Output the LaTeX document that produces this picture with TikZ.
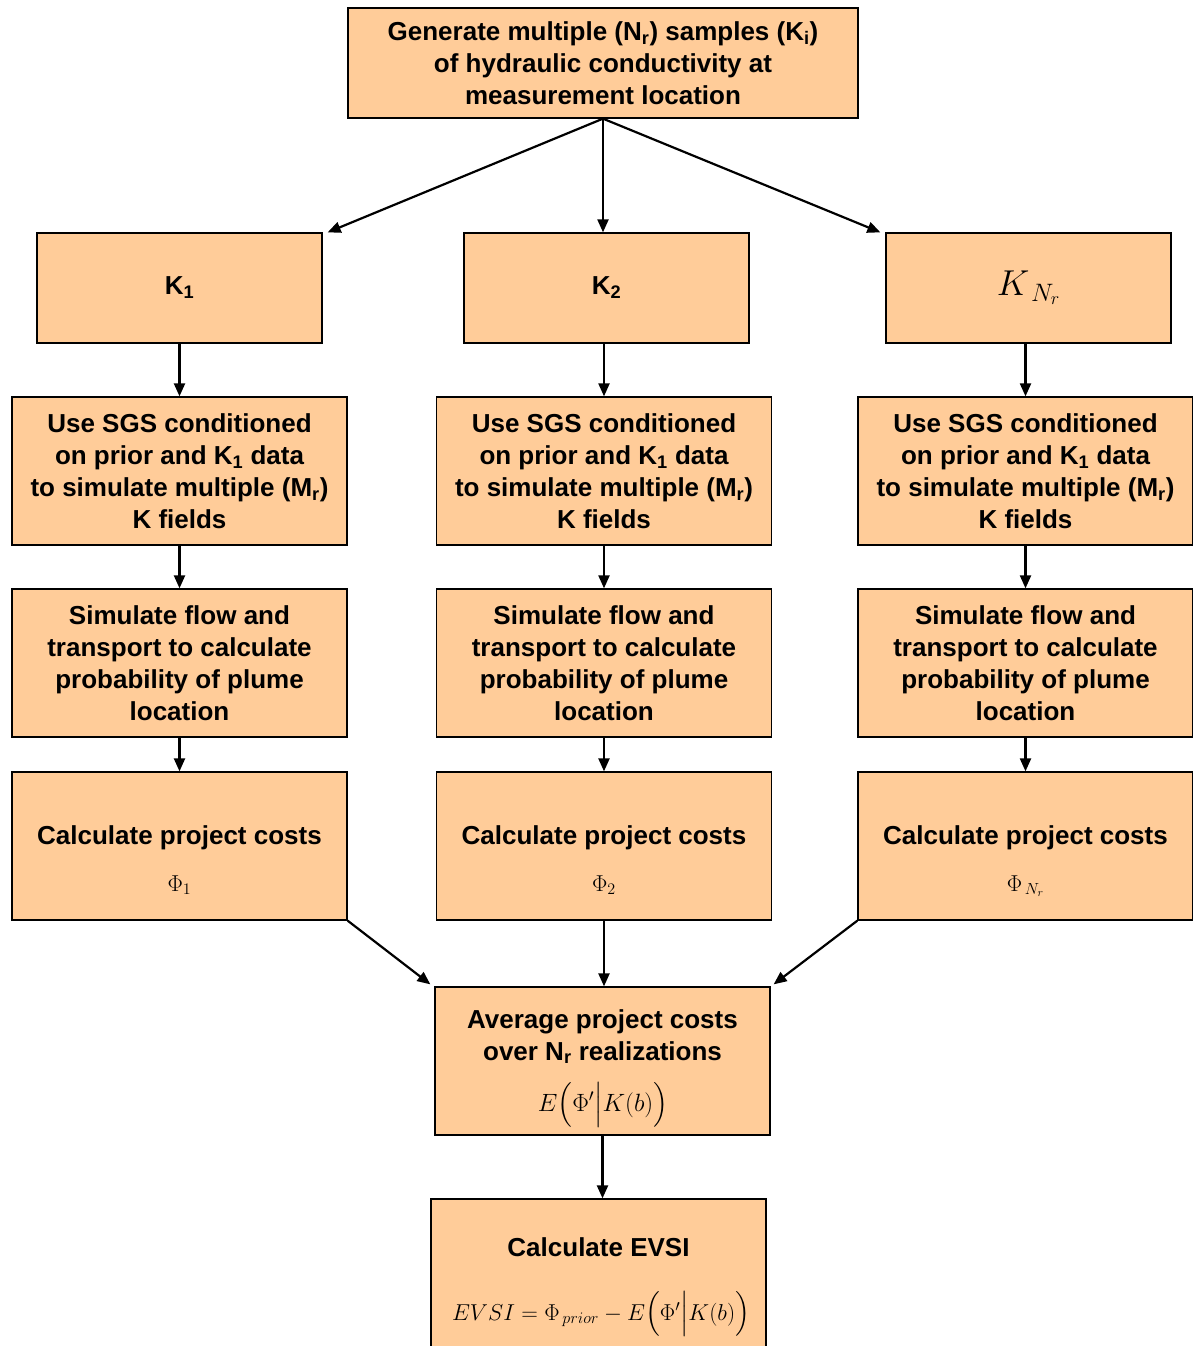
\RequirePackage{fix-cm}
\documentclass[tikz,border=0pt]{standalone}
\usepackage{amsmath}
\usepackage[no-math]{fontspec}
\setmainfont{Liberation Sans}
\usetikzlibrary{arrows.meta,calc}
\definecolor{boxfill}{HTML}{FFCC99}
\begin{document}
\begin{tikzpicture}[x=1pt,y=-1pt,
  box/.style={draw=black, line width=1.3pt, fill=boxfill, inner sep=0pt, align=center,
    font=\fontsize{26}{32}\selectfont\bfseries},
  lbl/.style={inner sep=0pt, anchor=base, font=\fontsize{26}{32}\selectfont\bfseries},
  arr/.style={line width=2.2pt, -{Triangle[length=13pt,width=11pt]}}]
\useasboundingbox (0,0) rectangle (1193,1346);
\fill[white] (0,0) rectangle (1193,1346);
% top
\node[box, minimum width=510pt, minimum height=110pt] (top) at (603,63)
  {Generate multiple (N\textsubscript{r}) samples (K\textsubscript{i})\\ of hydraulic conductivity at\\ measurement location};
% K row
\node[box, minimum width=285pt, minimum height=110pt] (k1) at (179.5,288) {K\textsubscript{1}};
\node[box, minimum width=285pt, minimum height=110pt] (k2) at (606.5,288) {K\textsubscript{2}};
\node[box, minimum width=285pt, minimum height=110pt] (k3) at (1028.5,288)
  {\fontsize{36}{40}\selectfont$K_{\,N_r}$};
% SGS row
\foreach \n/\x in {s1/179.5, s2/604, s3/1025.5}
  \node[box, minimum width=335pt, minimum height=148pt] (\n) at (\x,471)
  {Use SGS conditioned\\ on prior and K\textsubscript{1} data\\ to simulate multiple (M\textsubscript{r})\\ K fields};
% flow row
\foreach \n/\x in {f1/179.5, f2/604, f3/1025.5}
  \node[box, minimum width=335pt, minimum height=148pt] (\n) at (\x,663)
  {Simulate flow and\\ transport to calculate\\ probability of plume\\ location};
% cost row
\foreach \n/\x in {c1/179.5, c2/604, c3/1025.5}{
  \node[box, minimum width=335pt, minimum height=148pt] (\n) at (\x,846) {};
  \node[lbl] (\n t) at (\x,844) {Calculate project costs};
}
\node[lbl, font=\fontsize{23}{26}\selectfont] (c1m) at (179.5,891) {$\Phi_1$};
\node[lbl, font=\fontsize{23}{26}\selectfont] (c2m) at (604,891) {$\Phi_2$};
\node[lbl, font=\fontsize{23}{26}\selectfont] (c3m) at (1025.5,891) {$\Phi_{\,N_r}$};
% average
\node[box, minimum width=335pt, minimum height=148pt] (avg) at (602.5,1061) {};
\node[lbl] (avgt1) at (602.5,1028) {Average project costs};
\node[lbl] (avgt2) at (602.5,1060) {over N\textsubscript{r} realizations};
\node[lbl, font=\fontsize{25}{28}\selectfont] (avgm) at (603,1111)
  {$E\Bigl(\Phi'\Big|K(b)\Bigr)$};
% evsi
\node[box, minimum width=335pt, minimum height=150pt] (evsi) at (598.5,1274) {};
\node[lbl] (evsit) at (598.5,1256) {Calculate EVSI};
\node[lbl, font=\fontsize{23}{26}\selectfont] (evsim) at (601,1320)
  {$EVSI=\Phi_{\,prior}-E\Bigl(\Phi'\Big|K(b)\Bigr)$};
% arrows
\draw[arr] (top.south) -- ($(k1.north east)+(5,0)$);
\draw[arr] (top.south) -- (top.south |- k2.north);
\draw[arr] (top.south) -- ($(k3.north west)+(-5,0)$);
\draw[arr] (k1.south) -- (s1.north);
\draw[arr] (k2.south -| s2) -- (s2.north);
\draw[arr] (k3.south -| s3) -- (s3.north);
\draw[arr] (s1.south) -- (f1.north);
\draw[arr] (s2.south) -- (f2.north);
\draw[arr] (s3.south) -- (f3.north);
\draw[arr] (f1.south) -- (c1.north);
\draw[arr] (f2.south) -- (c2.north);
\draw[arr] (f3.south) -- (c3.north);
\draw[arr] (c1.south east) -- ($(avg.north west)+(-4,-2)$);
\draw[arr] (c2.south) -- (c2.south |- avg.north);
\draw[arr] (c3.south west) -- ($(avg.north east)+(3,-2)$);
\draw[arr] (avg.south) -- (avg.south |- evsi.north);
\end{tikzpicture}
\end{document}
